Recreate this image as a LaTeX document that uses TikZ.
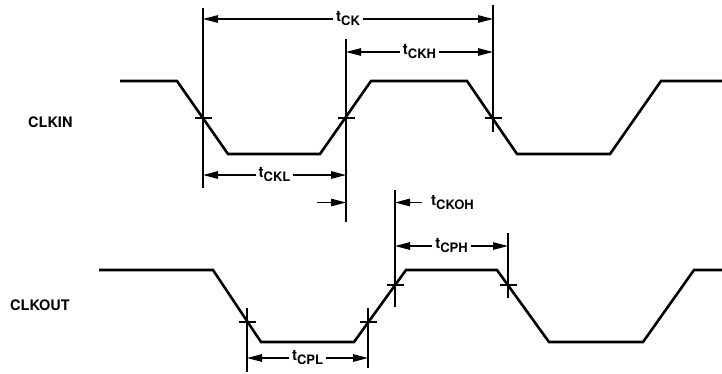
\documentclass[tikz,border=0pt]{standalone}
\usepackage{fontspec}
\setmainfont{TeX Gyre Heros}
\usetikzlibrary{arrows.meta}
\newcommand{\tsub}[1]{{\fontsize{15}{16}\selectfont t}\raisebox{-4pt}{\fontsize{13}{14}\selectfont #1}}

\begin{document}
\begin{tikzpicture}[x=1pt,y=-1pt]
	\tikzset{wave/.style = {line width=2.6pt, line join=miter}}
	\tikzset{ext/.style = {line width=1.3pt}}
	\tikzset{dim/.style = {line width=1.3pt, {Triangle[length=15pt,width=7.5pt]}-{Triangle[length=15pt,width=7.5pt]}}}
	\tikzset{arr/.style = {line width=1.3pt, -{Triangle[length=15pt,width=7.5pt]}}}
	\tikzset{lab/.style = {fill=white, inner xsep=3pt, inner ysep=1pt, font=\bfseries}}
	\tikzset{sig/.style = {inner sep=0pt, anchor=west, font=\fontsize{14.5}{15}\selectfont\bfseries}}
	\useasboundingbox (0,0) rectangle (722,373);
	% Signal names
	\node[sig] (clkin) at (28,122) {CLKIN};
	\node[sig] (clkout) at (10,305) {CLKOUT};
	% Waveforms
	\draw[wave] (120,81) -- (177,81) -- (228,154) -- (320,154) -- (371,81) -- (467,81)
		-- (517,154) -- (610,154) -- (661,81) -- (722,81);
	\draw[wave] (99,270) -- (213,270) -- (261,342) -- (354,342) -- (406,270) -- (497,270)
		-- (549,342) -- (643,342) -- (694,270) -- (722,270);
	% Crossing points
	\coordinate (i1) at (203,118);
	\coordinate (i2) at (346,118);
	\coordinate (i3) at (493,118);
	\coordinate (o1) at (247,322);
	\coordinate (o2) at (368,322);
	\coordinate (o3) at (395,285);
	\coordinate (o4) at (508,285);
	\foreach \p in {i1,i2,i3,o1,o2,o3,o4}
		\draw[ext] ([xshift=-8.5pt]\p) -- ([xshift=8.5pt]\p);
	% Extension lines
	\foreach \p/\a/\b in {i1/8/188, i2/39/222, i3/5/132, o1/308/372, o2/308/368, o3/190/307, o4/233/298}
		\draw[ext] (\p |- 0,\a) -- (\p |- 0,\b);
	% Timing dimensions
	\draw[dim] (i1 |- 0,19) -- node[lab] {\tsub{CK}} (i3 |- 0,19);
	\draw[dim] (i2 |- 0,52) -- node[lab] {\tsub{CKH}} (i3 |- 0,52);
	\draw[dim] (i1 |- 0,175) -- node[lab] {\tsub{CKL}} (i2 |- 0,175);
	\draw[dim] (o3 |- 0,246) -- node[lab] {\tsub{CPH}} (o4 |- 0,246);
	\draw[dim] (o1 |- 0,358) -- node[lab] {\tsub{CPL}} (o2 |- 0,358);
	\coordinate (kl) at (317,202.5);
	\coordinate (kr) at (422,202.5);
	\node[lab, anchor=west] (tckoh) at (428,202.5) {\tsub{CKOH}};
	\draw[arr] (kl) -- (i2 |- kl);
	\draw[arr] (kr) -- (o3 |- kr);
\end{tikzpicture}
\end{document}
